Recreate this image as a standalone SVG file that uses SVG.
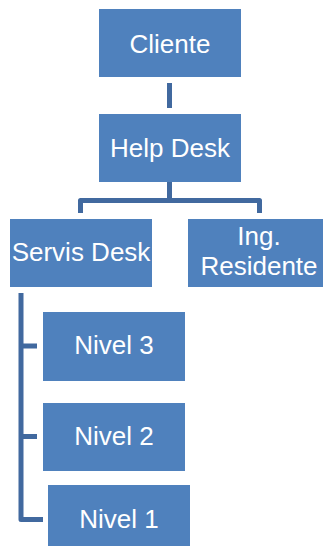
<svg xmlns="http://www.w3.org/2000/svg" width="323" height="546" viewBox="0 0 323 546">
<style>
.box{fill:#4f81bd}
.lbl{font-family:"Liberation Sans",Arial,sans-serif;font-size:26px;fill:#ffffff;text-anchor:middle}
.con{fill:none;stroke:#41699f;stroke-width:5;stroke-linejoin:round}
</style>
<rect width="323" height="546" fill="#ffffff"/>
<g id="connectors">
<path class="con" d="M169.5 83 V108"/>
<path class="con" d="M169.5 182 V200.5 M80.5 213 V200.5 H259.5 V213"/>
<path class="con" d="M21 293 V519.5 H43 M21 346 H37 M21 436.5 H37"/>
</g>
<g id="cliente"><rect class="box" x="99" y="9" width="142" height="68"/><text class="lbl" x="170" y="53">Cliente</text></g>
<g id="helpdesk"><rect class="box" x="99" y="114" width="142" height="68"/><text class="lbl" x="170" y="157">Help Desk</text></g>
<g id="servisdesk"><rect class="box" x="10" y="219" width="142" height="68"/><text class="lbl" x="81" y="261">Servis Desk</text></g>
<g id="ingresidente"><rect class="box" x="188" y="219" width="142" height="68"/><text class="lbl" x="259" y="245">Ing.</text><text class="lbl" x="259" y="275">Residente</text></g>
<g id="nivel3"><rect class="box" x="43" y="312" width="142" height="69"/><text class="lbl" x="114" y="354">Nivel 3</text></g>
<g id="nivel2"><rect class="box" x="43" y="403" width="142" height="68"/><text class="lbl" x="114" y="445">Nivel 2</text></g>
<g id="nivel1"><rect class="box" x="48" y="485" width="142" height="68"/><text class="lbl" x="119" y="528">Nivel 1</text></g>
</svg>
